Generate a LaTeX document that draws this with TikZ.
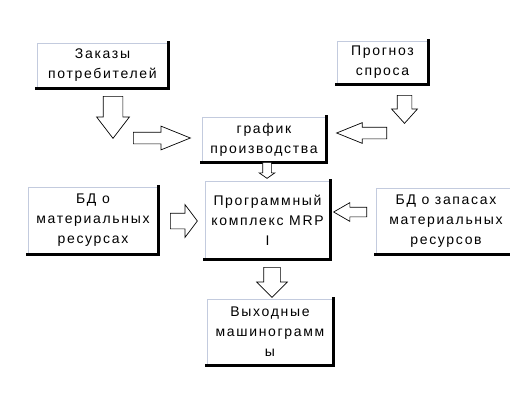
\documentclass[tikz,border=0pt]{standalone}
\usepackage{fontspec}
\setmainfont{Liberation Sans}[LetterSpace=12]
\usetikzlibrary{shapes.arrows}
\definecolor{frame}{RGB}{195,203,222}

\begin{document}
\begin{tikzpicture}[
 x=1pt, y=-1pt,
 box/.style={rectangle, draw=frame, line width=0.8pt, fill=white, align=center, inner sep=0pt, font=\fontsize{14}{20}\selectfont},
 shadowline/.style={line width=3pt, line cap=rect},
 blk/.style={single arrow, draw, fill=white, line width=0.7pt, inner xsep=0pt, anchor=tail}
]
\useasboundingbox[fill=white] (0,0) rectangle (510,409);

% boxes
\node[box, minimum width=131pt, minimum height=45pt] (zakazy) at (102.5,65.5) {Заказы\\потребителей};
\node[box, minimum width=91pt, minimum height=43pt] (prognoz) at (382.5,62.5) {Прогноз\\спроса};
\node[box, minimum width=124pt, minimum height=45pt] (grafik) at (264,139.5) {график\\производства};
\node[box, minimum width=125pt, minimum height=78pt] (mrp) at (267.5,220) {Программный\\комплекс MRP\\I};
\node[box, minimum width=130pt, minimum height=67pt] (bdmat) at (93,220.5) {БД о\\материальных\\ресурсах};
\node[box, minimum width=140pt, minimum height=66pt] (bdzap) at (446,221.5) {БД о запасах\\материальных\\ресурсов};
\node[box, minimum width=126pt, minimum height=66pt] (vyhod) at (270,332) {Выходные\\машинограмм\\ы};

\foreach \n in {zakazy, prognoz, grafik, mrp, bdmat, bdzap, vyhod}
  \draw[shadowline] (\n.north east) -- (\n.south east) -- (\n.south west);

% block arrows
\node[blk, rotate=-90, minimum height=42pt, inner ysep=9.5pt, single arrow head extend=6.5pt, single arrow tip angle=75] (zakdown) at (113,96) {};
\node[blk, minimum height=57pt, inner ysep=5.5pt, single arrow head extend=6pt, single arrow tip angle=44] (zakright) at (133,138) {};
\node[blk, rotate=-90, minimum height=28pt, inner ysep=7pt, single arrow head extend=5.5pt, single arrow tip angle=84] (progdown) at (404.5,95) {};
\node[blk, rotate=180, minimum height=50pt, inner ysep=5.5pt, single arrow head extend=4.5pt, single arrow tip angle=44] (progleft) at (387,133) {};
\node[blk, rotate=-90, minimum height=16pt, inner ysep=4pt, single arrow head extend=3.5pt, single arrow tip angle=110] (grafdown) at (267,162) {};
\node[blk, minimum height=27pt, inner ysep=7.5pt, single arrow head extend=8.5pt, single arrow tip angle=106] (matright) at (170,221) {};
\node[blk, rotate=180, minimum height=33pt, inner ysep=4.5pt, single arrow head extend=4.5pt, single arrow tip angle=60] (zapleft) at (367,212) {};
\node[blk, rotate=-90, minimum height=30pt, inner ysep=8pt, single arrow head extend=7pt, single arrow tip angle=90] (mrpdown) at (272,267) {};
\end{tikzpicture}
\end{document}
